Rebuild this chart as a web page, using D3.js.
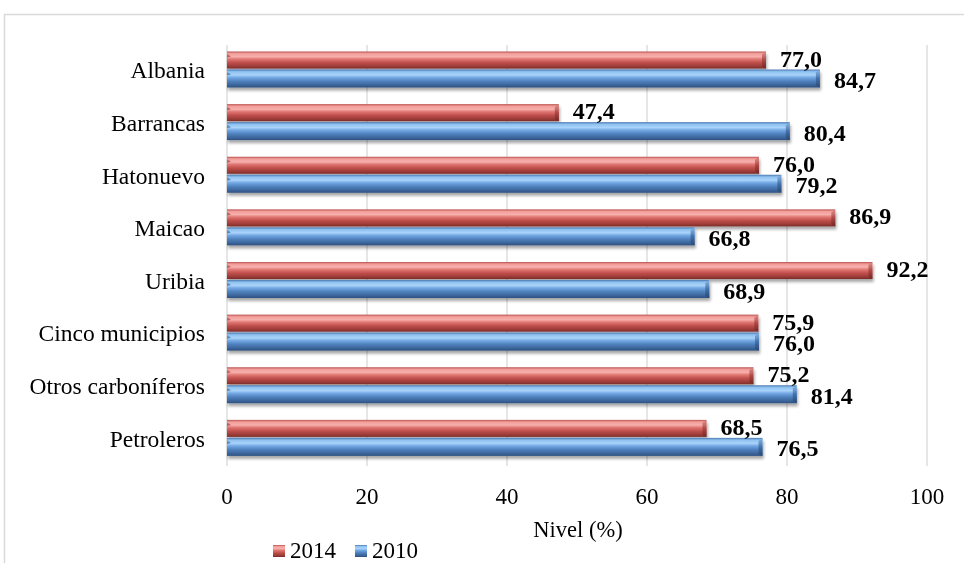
<!DOCTYPE html>
<html>
<head>
<meta charset="utf-8">
<script src="https://cdn.jsdelivr.net/npm/d3@7/dist/d3.min.js"></script>
<style>
  html, body { margin: 0; padding: 0; background: #ffffff; }
  svg { display: block; }
  text { font-family: "Liberation Serif", "Times New Roman", serif; fill: #000; }
</style>
</head>
<body>
<svg id="chart" width="964" height="563"></svg>
<script>
// Municipalities and survey values (%)
const categories = ["Albania", "Barrancas", "Hatonuevo", "Maicao", "Uribia",
                    "Cinco municipios", "Otros carboníferos", "Petroleros"];
const values2014 = [77.0, 47.4, 76.0, 86.9, 92.2, 75.9, 75.2, 68.5];
const values2010 = [84.7, 80.4, 79.2, 66.8, 68.9, 76.0, 81.4, 76.5];
const seriesNames = ["2014", "2010"];
const xTicks = [0, 20, 40, 60, 80, 100];
const axisTitle = "Nivel (%)";

const svg = d3.select("#chart");
const W = 964, H = 563;
const plot = { left: 227, right: 927, top: 45, bottom: 466 };

const x = d3.scaleLinear().domain([0, 100]).range([plot.left, plot.right]);
const y = d3.scaleBand().domain(categories).range([plot.top, plot.bottom]).padding(0);

const fmt = v => d3.format(".1f")(v).replace(".", ",");

// Outer frame
svg.append("path")
  .attr("d", `M4.5,${H} V14.5 H${W}`)
  .attr("fill", "none").attr("stroke", "#d9d9d9").attr("stroke-width", 1.5);

const defs = svg.append("defs");

// Cylinder-like vertical gradients for each series
function makeGrad(id, stops) {
  const g = defs.append("linearGradient").attr("id", id)
    .attr("x1", 0).attr("y1", 0).attr("x2", 0).attr("y2", 1);
  stops.forEach(([o, c]) => g.append("stop").attr("offset", o).attr("stop-color", c));
}
makeGrad("gRed", [[0, "#b8504d"], [0.12, "#f29d9a"], [0.3, "#f7b0ad"], [0.45, "#e07672"],
                  [0.65, "#c0504d"], [0.88, "#9a3a37"], [1, "#7a2b29"]]);
makeGrad("gBlue", [[0, "#4a78b0"], [0.12, "#8ec1f0"], [0.3, "#a9d3fa"], [0.45, "#72a7e3"],
                   [0.65, "#4f81bd"], [0.88, "#3a6398"], [1, "#2c4f7e"]]);
makeGrad("gRedEnd", [[0, "#d98a87"], [0.5, "#a8423f"], [1, "#6e2624"]]);
makeGrad("gBlueEnd", [[0, "#86b3e3"], [0.5, "#3d6aa3"], [1, "#27476f"]]);

// Soft shadow under bars
const f = defs.append("filter").attr("id", "shadow")
  .attr("x", "-5%").attr("y", "-40%").attr("width", "110%").attr("height", "200%");
f.append("feGaussianBlur").attr("in", "SourceAlpha").attr("stdDeviation", 1.6).attr("result", "b");
f.append("feOffset").attr("in", "b").attr("dx", 1).attr("dy", 3).attr("result", "o");
f.append("feComponentTransfer").attr("in", "o").attr("result", "s")
  .append("feFuncA").attr("type", "linear").attr("slope", 0.35);
const m = f.append("feMerge");
m.append("feMergeNode").attr("in", "s");
m.append("feMergeNode").attr("in", "SourceGraphic");

// Vertical gridlines
svg.append("g").selectAll("line").data(xTicks.slice(1)).join("line")
  .attr("x1", d => x(d)).attr("x2", d => x(d))
  .attr("y1", plot.top).attr("y2", plot.bottom)
  .attr("stroke", "#d9d9d9").attr("stroke-width", 1.3);

// Category axis line
svg.append("line")
  .attr("x1", plot.left).attr("x2", plot.left)
  .attr("y1", plot.top).attr("y2", plot.bottom)
  .attr("stroke", "#d9d9d9").attr("stroke-width", 1.3);

// Bar geometry inside each band
const series = [
  { name: seriesNames[0], values: values2014, offset: 6.5, h: 17, fill: "url(#gRed)", end: "url(#gRedEnd)", labelDy: 6.5 },
  { name: seriesNames[1], values: values2010, offset: 24.5, h: 18, fill: "url(#gBlue)", end: "url(#gBlueEnd)", labelDy: 9.5 }
];

const barsG = svg.append("g").attr("filter", "url(#shadow)");
series.forEach(s => {
  const g = barsG.append("g");
  categories.forEach((c, i) => {
    const v = s.values[i];
    const y0 = y(c) + s.offset;
    const x0 = x(0), x1 = x(v);
    g.append("rect").attr("x", x0).attr("y", y0).attr("width", x1 - x0).attr("height", s.h)
      .attr("fill", s.fill);
    // bevelled right end
    g.append("path")
      .attr("d", `M${x1 - 4},${y0 + 3} L${x1},${y0} L${x1},${y0 + s.h} L${x1 - 4},${y0 + s.h - 2} Z`)
      .attr("fill", s.end).attr("opacity", 0.85);
    // small bevel at left end
    g.append("path")
      .attr("d", `M${x0},${y0 + 2} L${x0 + 4},${y0 + 5} L${x0},${y0 + 6} Z`)
      .attr("fill", s.end).attr("opacity", 0.6);
  });
});

// Value labels
series.forEach(s => {
  svg.append("g").selectAll("text").data(categories).join("text")
    .attr("x", (c, i) => x(s.values[i]) + 14)
    .attr("y", c => y(c) + s.offset + s.h / 2 + s.labelDy)
    .attr("font-size", 24).attr("font-weight", "bold")
    .text((c, i) => fmt(s.values[i]));
});

// Category labels
svg.append("g").selectAll("text").data(categories).join("text")
  .attr("x", 205)
  .attr("y", c => y(c) + y.bandwidth() / 2 + 7)
  .attr("text-anchor", "end")
  .attr("font-size", 23.5)
  .text(d => d);

// X tick labels
svg.append("g").selectAll("text").data(xTicks).join("text")
  .attr("x", d => x(d)).attr("y", 504)
  .attr("text-anchor", "middle").attr("font-size", 23)
  .text(d => d);

// Axis title
svg.append("text").attr("x", 578).attr("y", 537)
  .attr("text-anchor", "middle").attr("font-size", 22.5).text(axisTitle);

// Legend
const legend = [
  { name: seriesNames[0], fill: "url(#gRed)", x: 273 },
  { name: seriesNames[1], fill: "url(#gBlue)", x: 355 }
];
const lg = svg.append("g").selectAll("g").data(legend).join("g");
lg.append("rect").attr("x", d => d.x).attr("y", 545).attr("width", 12).attr("height", 12)
  .attr("fill", d => d.fill);
lg.append("text").attr("x", d => d.x + 17).attr("y", 558).attr("font-size", 23).text(d => d.name);
</script>
</body>
</html>
